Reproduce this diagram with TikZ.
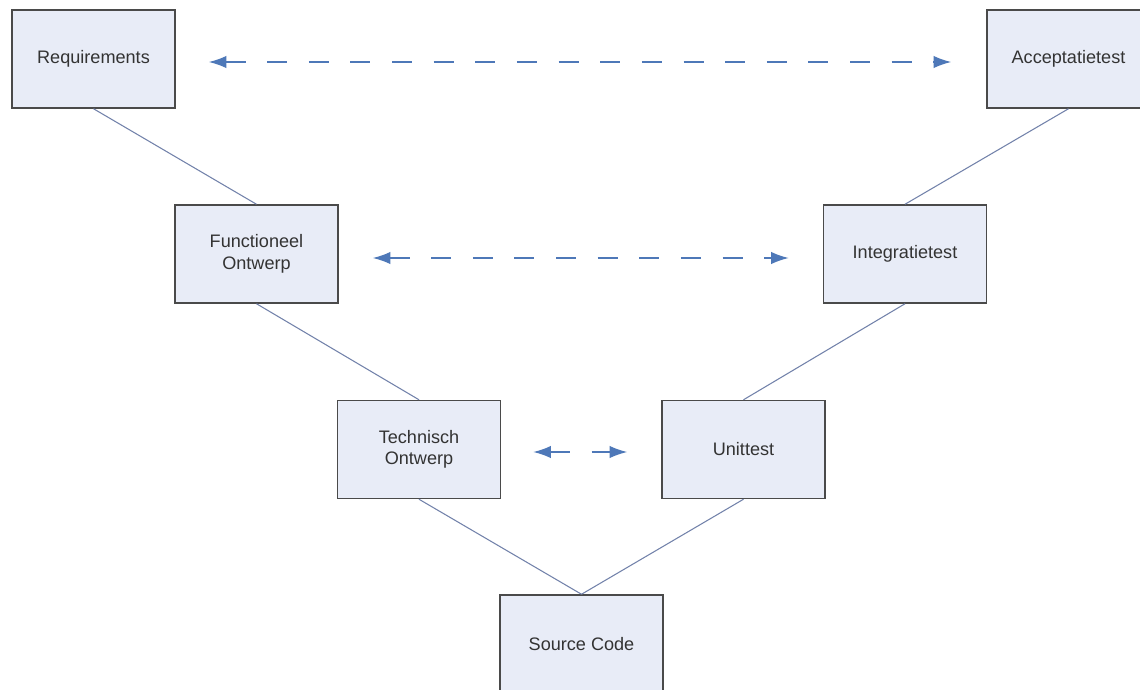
\documentclass[tikz,border=0pt]{standalone}
\usepackage{fontspec}
\setmainfont{Liberation Sans}
\usetikzlibrary{arrows.meta}
\definecolor{boxfill}{HTML}{E8ECF7}
\definecolor{boxdraw}{HTML}{4A4A4A}
\definecolor{linkcol}{HTML}{7282AA}
\definecolor{arrcol}{HTML}{4E78B8}
\definecolor{txtcol}{HTML}{333333}
\tikzset{
  phase/.style={draw=boxdraw, fill=boxfill, line width=0.85pt,
    minimum width=3.26cm, minimum height=1.96cm, inner sep=0pt,
    align=center, text=txtcol, font=\fontsize{10.3}{12.2}\selectfont},
  link/.style={draw=linkcol, line width=0.6pt},
  dasharrow/.style={draw=arrcol, line width=0.9pt,
    dash pattern=on 11.4pt off 12.3pt,
    {Latex[length=10pt,width=7pt]}-{Latex[length=10pt,width=7pt]}}
}
\begin{document}
\begin{tikzpicture}[x=0.02cm,y=-0.02cm]
\useasboundingbox[fill=white] (0,0) rectangle (1140,690);
\node[phase] (req)  at (93.5,59)    {Requirements};
\node[phase] (acc)  at (1068.5,59)  {Acceptatietest};
\node[phase] (func) at (256.5,254)  {Functioneel\\Ontwerp};
\node[phase] (int)  at (905,254)    {Integratietest};
\node[phase] (tech) at (419,449.5)  {Technisch\\Ontwerp};
\node[phase] (unit) at (743.5,449.5){Unittest};
\node[phase] (src)  at (581.5,644)  {Source Code};

\draw[link] (req.south) -- (func.north);
\draw[link] (func.south) -- (tech.north);
\draw[link] (tech.south) -- (src.north);
\draw[link] (acc.south) -- (int.north);
\draw[link] (int.south) -- (unit.north);
\draw[link] (unit.south) -- (src.north);

\draw[dasharrow] ([xshift=0.66cm,yshift=-0.06cm]req.east) -- ([xshift=-0.7cm,yshift=-0.06cm]acc.west);
\draw[dasharrow] ([xshift=0.68cm,yshift=-0.08cm]func.east) -- ([xshift=-0.68cm,yshift=-0.08cm]int.west);
\draw[dasharrow] ([xshift=0.64cm,yshift=-0.05cm]tech.east) -- ([xshift=-0.68cm,yshift=-0.05cm]unit.west);
\end{tikzpicture}
\end{document}
